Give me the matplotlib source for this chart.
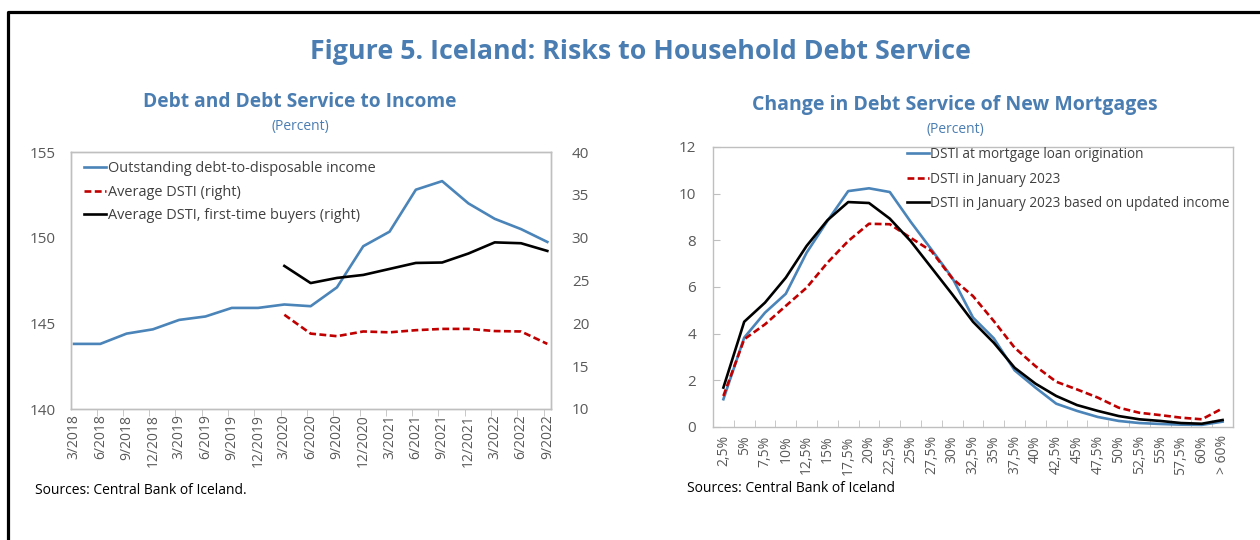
import matplotlib
matplotlib.use("Agg")
import matplotlib.pyplot as plt
from matplotlib.lines import Line2D
from matplotlib.ticker import FixedLocator

plt.rcParams['font.family'] = ['Open Sans', 'DejaVu Sans']

# ---------------- data ----------------
quarters = ["3/2018", "6/2018", "9/2018", "12/2018", "3/2019", "6/2019", "9/2019",
            "12/2019", "3/2020", "6/2020", "9/2020", "12/2020", "3/2021", "6/2021",
            "9/2021", "12/2021", "3/2022", "6/2022", "9/2022"]
debt_to_income = [143.8, 143.8, 144.4, 144.65, 145.2, 145.4, 145.9, 145.9, 146.1,
                  146.0, 147.1, 149.5, 150.35, 152.8, 153.3, 152.0, 151.1, 150.5, 149.75]
# DSTI series start at 3/2020
dsti_avg = [21.0, 18.8, 18.5, 19.05, 18.95, 19.2, 19.35, 19.35, 19.1, 19.05, 17.6]
dsti_ftb = [26.7, 24.7, 25.3, 25.65, 26.35, 27.05, 27.1, 28.15, 29.45, 29.35, 28.45]
dsti_start = 8

buckets = ["2,5%", "5%", "7,5%", "10%", "12,5%", "15%", "17,5%", "20%", "22,5%", "25%",
           "27,5%", "30%", "32,5%", "35%", "37,5%", "40%", "42,5%", "45%", "47,5%",
           "50%", "52,5%", "55%", "57,5%", "60%", "> 60%"]
dsti_orig = [1.19, 3.83, 4.9, 5.71, 7.47, 8.83, 10.11, 10.23, 10.07, 8.8, 7.61, 6.4,
             4.69, 3.8, 2.43, 1.69, 1.0, 0.69, 0.43, 0.26, 0.17, 0.13, 0.1, 0.09, 0.23]
dsti_jan23 = [1.33, 3.76, 4.4, 5.19, 5.97, 7.04, 7.97, 8.71, 8.69, 8.11, 7.54, 6.37,
              5.61, 4.54, 3.4, 2.61, 1.94, 1.61, 1.26, 0.83, 0.61, 0.51, 0.4, 0.33, 0.8]
dsti_jan23_inc = [1.69, 4.51, 5.33, 6.4, 7.76, 8.86, 9.64, 9.6, 8.93, 7.97, 6.83, 5.69,
                  4.51, 3.61, 2.54, 1.86, 1.33, 0.94, 0.69, 0.47, 0.33, 0.26, 0.17, 0.14, 0.3]

# ---------------- style ----------------
W, H = 1260, 540
BLUE = '#4a84b8'
TITLE_BLUE = '#4a7db1'
RED = '#c00000'
GRAY_TXT = '#595959'
SPINE = '#bfbfbf'
LW = 1.9
DASH = (2.6, 1.3)

fig = plt.figure(figsize=(W / 100, H / 100), dpi=100)

def fx(px):
    return px / W

def fy(py):
    return 1 - py / H

# outer frame (top and left)
fig.add_artist(Line2D([fx(7.5), fx(7.5), 1.0], [0.0, fy(12), fy(12)],
                      transform=fig.transFigure, color='black', lw=2.3))

fig.text(fx(640), fy(52), "Figure 5. Iceland: Risks to Household Debt Service",
         ha='center', va='center', fontsize=19.3, fontweight='bold', color=TITLE_BLUE)

# ---------------- left chart ----------------
ax1 = fig.add_axes([fx(71), fy(409), fx(551 - 71), (409 - 152) / H])
ax1b = ax1.twinx()
x = list(range(len(quarters)))
xd = x[dsti_start:]

l1, = ax1.plot(x, debt_to_income, color=BLUE, lw=LW, solid_joinstyle='round')
l2, = ax1b.plot(xd, dsti_avg, color=RED, lw=LW, dashes=DASH)
l3, = ax1b.plot(xd, dsti_ftb, color='black', lw=LW)

ax1.set_ylim(140, 155)
ax1.set_yticks([140, 145, 150, 155])
ax1b.set_ylim(10, 40)
ax1b.set_yticks([10, 15, 20, 25, 30, 35, 40])
ax1.set_xlim(-0.114, 18.14)
ax1.set_xticks(x)
ax1.set_xticklabels(quarters, rotation=90)
ax1.xaxis.set_minor_locator(FixedLocator([i - 0.14 for i in range(1, 19)]))
ax1.tick_params(axis='x', which='major', length=0, labelsize=10, colors=GRAY_TXT, pad=4)
ax1.tick_params(axis='x', which='minor', length=5, color=SPINE, direction='out')
ax1.tick_params(axis='y', length=0, labelsize=11, colors=GRAY_TXT, pad=11)
ax1b.tick_params(axis='y', length=0, labelsize=11, colors=GRAY_TXT, pad=15)
for a in (ax1, ax1b):
    for s in a.spines.values():
        s.set_color(SPINE)
        s.set_linewidth(1.0)

leg1 = ax1b.legend([l1, l2, l3],
                   ["Outstanding debt-to-disposable income", "Average DSTI (right)",
                    "Average DSTI, first-time buyers (right)"],
                   loc='upper left', bbox_to_anchor=(fx(84), fy(161)),
                   bbox_transform=fig.transFigure, frameon=False, fontsize=10.45,
                   handlelength=1.55, handletextpad=0.1, labelspacing=0.6,
                   borderpad=0, borderaxespad=0)
for t in leg1.get_texts():
    t.set_color('#404040')

fig.text(fx(300), fy(102), "Debt and Debt Service to Income", ha='center', va='center',
         fontsize=13.8, fontweight='bold', color=TITLE_BLUE)
fig.text(fx(300), fy(126), "(Percent)", ha='center', va='center',
         fontsize=10, color=TITLE_BLUE)
fig.text(fx(35), fy(490), "Sources: Central Bank of Iceland.", ha='left', va='center',
         fontsize=10, color='black')

# ---------------- right chart ----------------
ax2 = fig.add_axes([fx(713), fy(427), fx(1233 - 713), (427 - 147) / H])
xb = list(range(len(buckets)))
r1, = ax2.plot(xb, dsti_orig, color=BLUE, lw=LW)
r2, = ax2.plot(xb, dsti_jan23, color=RED, lw=LW, dashes=DASH)
r3, = ax2.plot(xb, dsti_jan23_inc, color='black', lw=LW)
ax2.set_ylim(0, 12)
ax2.set_yticks([0, 2, 4, 6, 8, 10, 12])
ax2.set_xlim(-0.5, len(buckets) - 0.5)
ax2.set_xticks(xb)
ax2.set_xticklabels(buckets, rotation=90)
ax2.xaxis.set_minor_locator(FixedLocator([i + 0.5 for i in range(len(buckets) - 1)]))
ax2.tick_params(axis='x', which='major', length=0, labelsize=10, colors=GRAY_TXT, pad=6)
ax2.tick_params(axis='x', which='minor', length=5, color=SPINE, direction='in')
ax2.tick_params(axis='y', length=5, color=SPINE, direction='in', labelsize=11,
                labelcolor=GRAY_TXT, pad=12)
for s in ax2.spines.values():
    s.set_color(SPINE)
    s.set_linewidth(1.0)

leg2 = ax2.legend([r1, r2, r3],
                  ["DSTI at mortgage loan origination", "DSTI in January 2023",
                   "DSTI in January 2023 based on updated income"],
                  loc='upper left', bbox_to_anchor=(fx(907), fy(147)),
                  bbox_transform=fig.transFigure, frameon=False, fontsize=9.8,
                  handlelength=1.6, handletextpad=0.1, labelspacing=0.7,
                  borderpad=0, borderaxespad=0)
for t in leg2.get_texts():
    t.set_color('#404040')

fig.text(fx(955), fy(105), "Change in Debt Service of New Mortgages", ha='center',
         va='center', fontsize=14, fontweight='bold', color=TITLE_BLUE)
fig.text(fx(955), fy(129), "(Percent)", ha='center', va='center',
         fontsize=10, color=TITLE_BLUE)
fig.text(fx(687), fy(488), "Sources: Central Bank of Iceland", ha='left', va='center',
         fontsize=10, color='black')

fig.savefig("out.png", dpi=100)
